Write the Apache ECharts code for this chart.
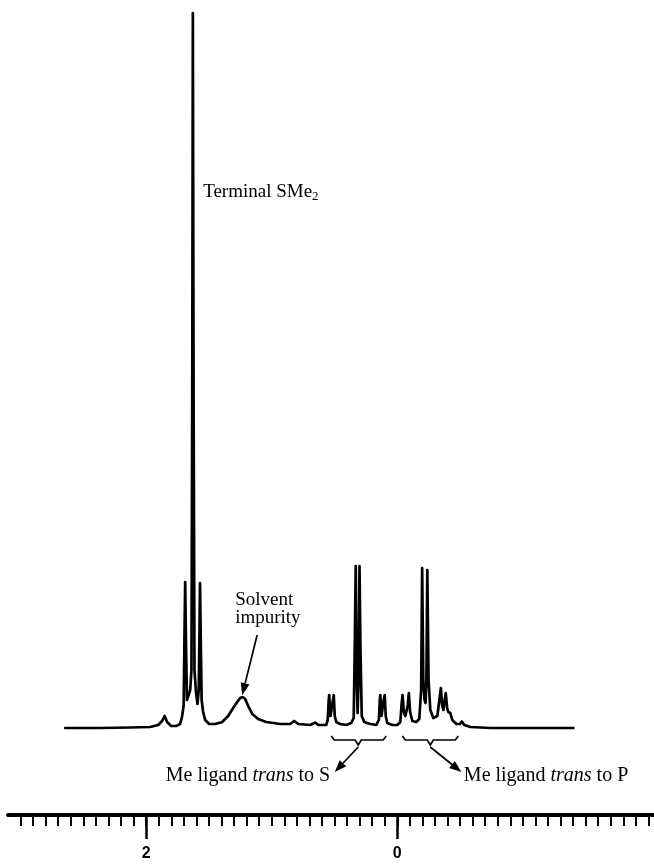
<!DOCTYPE html>
<html><head><meta charset="utf-8">
<script src="https://cdn.jsdelivr.net/npm/echarts@6/dist/echarts.min.js"></script>
<style>html,body{margin:0;padding:0;background:#fff}#c{width:654px;height:864px}</style>
</head><body><div id="c"></div>
<script>
// chemical shift (ppm) of traced points along the spectrum
const shift = [2.645,2.367,2.127,1.968,1.904,1.873,1.853,1.833,1.801,1.761,1.729,1.713,1.701,1.695,1.689,1.683,1.675,1.661,1.649,1.639,1.633,1.628,1.622,1.615,1.603,1.591,1.581,1.576,1.571,1.565,1.558,1.546,1.530,1.498,1.450,1.394,1.347,1.307,1.275,1.251,1.231,1.211,1.187,1.155,1.108,1.044,0.932,0.853,0.821,0.789,0.693,0.653,0.629,0.566,0.554,0.546,0.542,0.532,0.522,0.512,0.506,0.498,0.486,0.454,0.406,0.367,0.347,0.339,0.331,0.323,0.316,0.308,0.301,0.293,0.283,0.263,0.215,0.167,0.147,0.139,0.135,0.126,0.117,0.108,0.100,0.092,0.080,0.040,0.000,-0.024,-0.034,-0.042,-0.052,-0.064,-0.084,-0.092,-0.102,-0.120,-0.151,-0.175,-0.190,-0.198,-0.207,-0.217,-0.225,-0.232,-0.239,-0.249,-0.263,-0.287,-0.319,-0.335,-0.347,-0.357,-0.367,-0.378,-0.386,-0.397,-0.406,-0.422,-0.438,-0.470,-0.498,-0.514,-0.534,-0.582,-0.741,-0.980,-1.402];
// signal intensity (arbitrary units) at those points
const intensity = [0,0,0.5,1,3,7,12,6,2,2,4,12,23,88,146,88,28,26,38,58,328,715,328,58,36,24,38,88,145,88,28,16,8,4,4,6,12,20,26,30,31,29,22,14,9,6,4,4,7,4,3,5.5,3,3,8,28,33,12,10,28,33,12,6,4,3,5,10,78,162,48,15,48,162,78,12,6,4,3,8,28,33,12,10,28,33,12,5,3,3,6,23,33,16,12,23,35,16,7,6,9,38,160,48,28,25,48,158,48,18,10,12,28,40,23,18,28,35,20,16,15,8,4,4,6.5,3,1,0,0,0];

const axisMin = -2.1, axisMax = 3.1;
const majorTickValues = [2, 0];
const majorTickLabels = ['2', '0'];
const minorTickValues = [];
for (let i = 30; i >= -20; i--) minorTickValues.push(i / 10);

// annotation anchors in data coordinates [ppm, intensity]
const terminalLabelAt = [1.546, 536];
const solventLabelAt = [1.291, 119];
const solventArrow = [[1.116, 93], [1.235, 33]];
const transSLabelAt = [0.534, -48];
const transPLabelAt = [-0.530, -48];
const bracketS = [0.526, 0.311, 0.088];
const bracketP = [-0.040, -0.263, -0.486];
const bracketLevel = -12;
const arrowS = [[0.311, -19], [0.498, -44]];
const arrowP = [[-0.263, -19], [-0.510, -44]];

const chart = echarts.init(document.getElementById('c'), null, {renderer: 'canvas'});
const serif = 'Liberation Serif, Times New Roman, serif';

chart.setOption({
  animation: false,
  backgroundColor: '#fff',
  grid: {left: 8, right: -7, top: 0, bottom: 49, containLabel: false, outerBoundsMode: 'none'},
  xAxis: [
    {
      type: 'value', min: axisMin, max: axisMax, inverse: true, position: 'bottom',
      axisLine: {show: true, onZero: false, lineStyle: {color: '#000', width: 4}},
      axisTick: {show: true, customValues: majorTickValues, length: 24, lineStyle: {color: '#000', width: 2.5}},
      axisLabel: {show: true, customValues: majorTickValues,
        formatter: v => majorTickLabels[majorTickValues.findIndex(m => Math.abs(m - v) < 1e-6)] || '',
        fontFamily: 'Liberation Sans, Arial, sans-serif', fontWeight: 'bold', fontSize: 16, color: '#000', margin: 31},
      splitLine: {show: false}
    },
    {
      type: 'value', min: axisMin, max: axisMax, inverse: true, position: 'bottom', offset: 0,
      axisLine: {show: false, onZero: false},
      axisTick: {show: true, customValues: minorTickValues, length: 11, lineStyle: {color: '#000', width: 2}},
      axisLabel: {show: false},
      splitLine: {show: false}
    }
  ],
  yAxis: {type: 'value', min: -87, max: 728, show: false, splitLine: {show: false}},
  series: [{
    type: 'line', xAxisIndex: 0, yAxisIndex: 0,
    data: shift.map((s, i) => [s, intensity[i]]),
    showSymbol: false, symbol: 'none', silent: true,
    lineStyle: {color: '#000', width: 2.7, join: 'round', cap: 'round'}
  }]
});

const P = d => chart.convertToPixel({gridIndex: 0}, d);

function arrow(tail, head) {
  const a = P(tail), b = P(head);
  const dx = b[0] - a[0], dy = b[1] - a[1];
  const L = Math.hypot(dx, dy), ux = dx / L, uy = dy / L;
  const hl = 12, hw = 4.5;
  const bx = b[0] - ux * hl, by = b[1] - uy * hl;
  return [
    {type: 'line', shape: {x1: a[0], y1: a[1], x2: bx, y2: by}, style: {stroke: '#000', lineWidth: 1.7}},
    {type: 'polygon', shape: {points: [[b[0], b[1]], [bx - uy * hw, by + ux * hw], [bx + uy * hw, by - ux * hw]]}, style: {fill: '#000'}}
  ];
}

function bracket(b) {
  const l = P([b[0], bracketLevel]), c = P([b[1], bracketLevel]), r = P([b[2], bracketLevel]);
  const y = l[1];
  return {type: 'polyline', shape: {points: [[l[0], y - 4], [l[0] + 3, y], [c[0] - 3, y], [c[0], y + 5], [c[0] + 3, y], [r[0] - 3, y], [r[0], y - 4]]},
    style: {stroke: '#000', lineWidth: 1.7, fill: null}};
}

const t = P(terminalLabelAt), s = P(solventLabelAt), ts = P(transSLabelAt), tp = P(transPLabelAt);
const richTerm = {
  n: {fontSize: 19, fontFamily: serif, fill: '#000', lineHeight: 22},
  s: {fontSize: 13, fontFamily: serif, fill: '#000', lineHeight: 10, verticalAlign: 'bottom'}
};
const richTrans = {
  n: {fontSize: 20, fontFamily: serif, fill: '#000', lineHeight: 22},
  i: {fontSize: 20, fontFamily: serif, fontStyle: 'italic', fill: '#000', lineHeight: 22}
};

const graphics = [
  {type: 'text', x: t[0], y: t[1], style: {text: '{n|Terminal SMe}{s|2}', rich: richTerm, align: 'left', verticalAlign: 'middle'}},
  {type: 'text', x: s[0], y: s[1], style: {text: 'Solvent\nimpurity', fontSize: 19, fontFamily: serif, fill: '#000', lineHeight: 18, align: 'left', verticalAlign: 'middle'}},
  {type: 'text', x: ts[0], y: ts[1], style: {text: '{n|Me ligand }{i|trans}{n| to S}', rich: richTrans, align: 'right', verticalAlign: 'middle'}},
  {type: 'text', x: tp[0], y: tp[1], style: {text: '{n|Me ligand }{i|trans}{n| to P}', rich: richTrans, align: 'left', verticalAlign: 'middle'}},
  bracket(bracketS), bracket(bracketP),
  ...arrow(solventArrow[0], solventArrow[1]),
  ...arrow(arrowS[0], arrowS[1]),
  ...arrow(arrowP[0], arrowP[1])
];
chart.setOption({graphic: graphics});
</script></body></html>
